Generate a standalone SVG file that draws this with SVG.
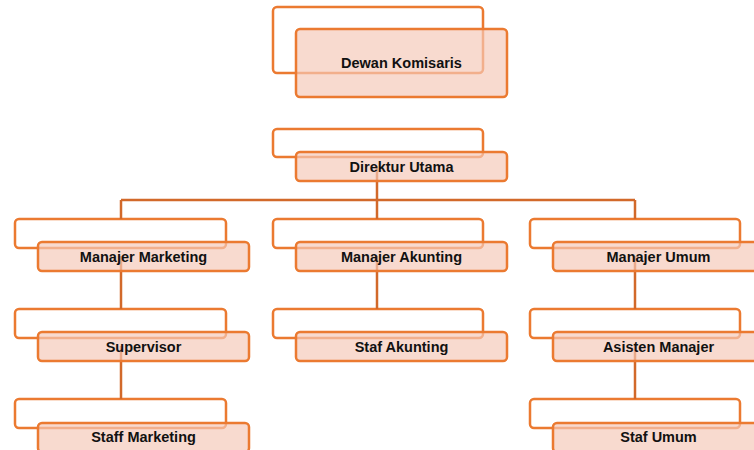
<svg xmlns="http://www.w3.org/2000/svg" width="754" height="450" viewBox="0 0 754 450">
<style>
.back{fill:#FFFFFF;stroke:#EB7A31;stroke-width:2.5}
.front{fill:#F5C9B8;fill-opacity:0.68;stroke:#EB7A31;stroke-width:2.5}
.conn{fill:none;stroke:#D2692A;stroke-width:2.5}
text{font-family:"Liberation Sans",Arial,sans-serif;font-weight:bold;font-size:14.5px;fill:#111111;text-anchor:middle}
</style>
<rect width="754" height="450" fill="#FFFFFF"/>
<g id="backs">
<rect class="back" x="273" y="7" width="210" height="66" rx="4"/>
<rect class="back" x="273" y="129" width="210" height="28" rx="4"/>
<rect class="back" x="15" y="219" width="211" height="29" rx="4"/>
<rect class="back" x="273" y="219" width="210" height="29" rx="4"/>
<rect class="back" x="530" y="219" width="210" height="29" rx="4"/>
<rect class="back" x="15" y="309" width="211" height="29" rx="4"/>
<rect class="back" x="273" y="309" width="210" height="29" rx="4"/>
<rect class="back" x="530" y="309" width="210" height="29" rx="4"/>
<rect class="back" x="15" y="399" width="211" height="29" rx="4"/>
<rect class="back" x="530" y="399" width="210" height="29" rx="4"/>
</g>
<g id="connectors">
<path class="conn" d="M377 166V219"/>
<path class="conn" d="M121 200H635"/>
<path class="conn" d="M121 200V219"/>
<path class="conn" d="M635 200V219"/>
<path class="conn" d="M121 256V309"/>
<path class="conn" d="M121 346V399"/>
<path class="conn" d="M377 256V309"/>
<path class="conn" d="M635 256V309"/>
<path class="conn" d="M635 346V399"/>
</g>
<g id="dewan-komisaris">
<rect class="front" x="296" y="29" width="211" height="68" rx="4"/>
<text x="401.5" y="67.5">Dewan Komisaris</text>
</g>
<g id="direktur-utama">
<rect class="front" x="296" y="152" width="211" height="29" rx="4"/>
<text x="401.5" y="171.5">Direktur Utama</text>
</g>
<g id="manajer-marketing">
<rect class="front" x="38" y="242" width="211" height="29" rx="4"/>
<text x="143.5" y="261.5">Manajer Marketing</text>
</g>
<g id="manajer-akunting">
<rect class="front" x="296" y="242" width="211" height="29" rx="4"/>
<text x="401.5" y="261.5">Manajer Akunting</text>
</g>
<g id="manajer-umum">
<rect class="front" x="553" y="242" width="211" height="29" rx="4"/>
<text x="658.5" y="261.5">Manajer Umum</text>
</g>
<g id="supervisor">
<rect class="front" x="38" y="332" width="211" height="29" rx="4"/>
<text x="143.5" y="351.5">Supervisor</text>
</g>
<g id="staf-akunting">
<rect class="front" x="296" y="332" width="211" height="29" rx="4"/>
<text x="401.5" y="351.5">Staf Akunting</text>
</g>
<g id="asisten-manajer">
<rect class="front" x="553" y="332" width="211" height="29" rx="4"/>
<text x="658.5" y="351.5">Asisten Manajer</text>
</g>
<g id="staff-marketing">
<rect class="front" x="38" y="423" width="211" height="29" rx="4"/>
<text x="143.5" y="442">Staff Marketing</text>
</g>
<g id="staf-umum">
<rect class="front" x="553" y="423" width="211" height="29" rx="4"/>
<text x="658.5" y="442">Staf Umum</text>
</g>
</svg>
